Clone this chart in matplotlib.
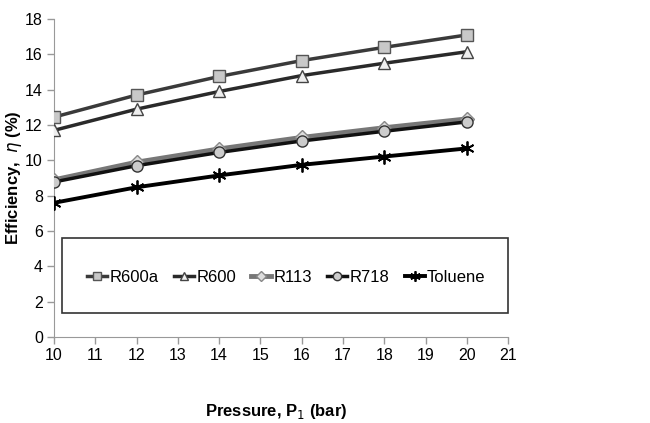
import matplotlib
matplotlib.use("Agg")
import matplotlib.pyplot as plt
from matplotlib.patches import Rectangle

pressure = [10, 12, 14, 16, 18, 20]
r600a = [12.45, 13.7, 14.75, 15.65, 16.4, 17.1]
r600 = [11.7, 12.9, 13.9, 14.8, 15.5, 16.15]
r113 = [8.9, 9.9, 10.65, 11.3, 11.85, 12.35]
r718 = [8.78, 9.7, 10.45, 11.1, 11.65, 12.18]
toluene = [7.6, 8.48, 9.15, 9.75, 10.22, 10.68]
labels = ["R600a", "R600", "R113", "R718", "Toluene"]

font = "Liberation Sans"

fig = plt.figure(figsize=(6.5, 4.23), dpi=100)
ax = fig.add_axes([0.083, 0.203, 0.699, 0.752])

ax.plot(pressure, r600a, color="#3a3a3a", lw=2.5, marker="s", ms=8,
        mfc="#c8c8c8", mec="#555555", mew=1, label=labels[0], zorder=3)
ax.plot(pressure, r600, color="#2a2a2a", lw=2.5, marker="^", ms=8,
        mfc="#eeeeee", mec="#444444", mew=1, label=labels[1], zorder=3)
ax.plot(pressure, r113, color="#777777", lw=3.5, marker="D", ms=7,
        mfc="#dddddd", mec="#888888", mew=1, label=labels[2], zorder=3)
ax.plot(pressure, r718, color="#111111", lw=2.5, marker="o", ms=8,
        mfc="#cccccc", mec="#333333", mew=1, label=labels[3], zorder=4)
ax.plot(pressure, toluene, color="#000000", lw=2.8, marker=(6, 2, 0), ms=10,
        mec="#000000", mew=1.3, label=labels[4], zorder=3)

ax.set_xlim(10, 21)
ax.set_ylim(0, 18)
ax.set_xticks(range(10, 22))
ax.set_yticks(range(0, 19, 2))
for s in ["top", "right"]:
    ax.spines[s].set_visible(False)
for s in ["left", "bottom"]:
    ax.spines[s].set_color("#999999")
ax.tick_params(axis="both", colors="#999999", length=5, width=1, direction="out",
               labelcolor="black", labelsize=11.5, pad=3)
for lab in ax.get_xticklabels() + ax.get_yticklabels():
    lab.set_fontfamily(font)

ax.set_xlabel("Pressure, P$_1$ (bar)", fontsize=12, fontweight="bold",
              fontfamily=font)
ax.xaxis.set_label_coords(0.49, -0.205)
ax.set_ylabel("Efficiency,  $\\eta$ (%)", fontsize=12, fontweight="bold",
              fontfamily=font)
ax.yaxis.set_label_coords(-0.066, 0.5)

# legend frame box
ax.add_patch(Rectangle((10.2, 1.36), 10.8, 4.24, fill=False, edgecolor="#333333",
                       lw=1.2, clip_on=False, zorder=5))
leg = ax.legend(loc="center", ncol=5, bbox_to_anchor=(10.8, 2.6, 9.65, 1.6),
                bbox_transform=ax.transData, mode="expand", frameon=False,
                handlelength=1.2, handletextpad=0.15, columnspacing=0.5,
                markerscale=0.75, prop={"family": font, "size": 12},
                borderaxespad=0, borderpad=0)
leg.set_zorder(6)

fig.savefig("out.png", dpi=100)
